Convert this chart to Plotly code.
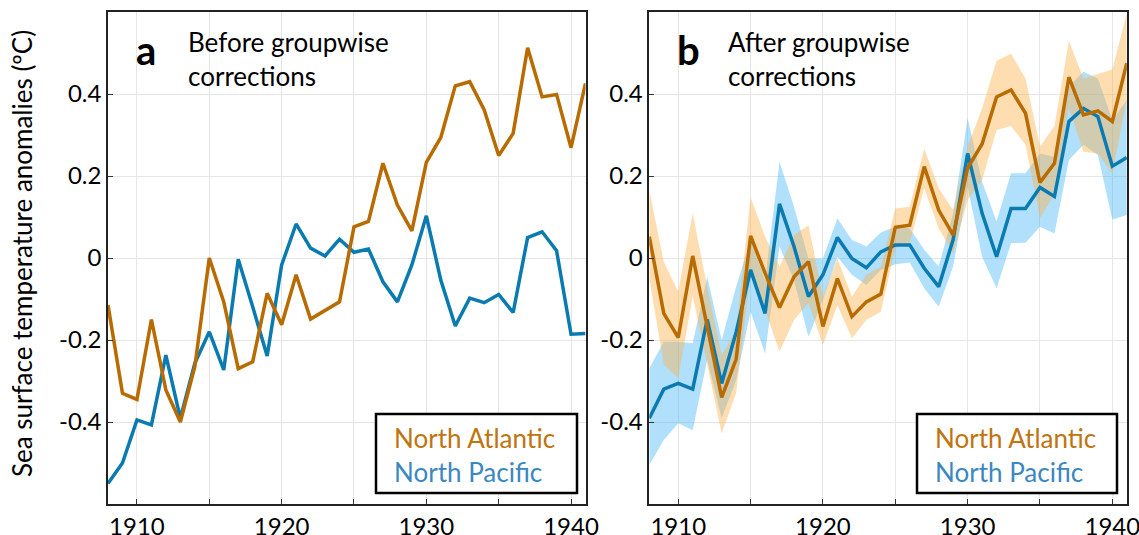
import plotly.graph_objects as go

W, H = 1139, 535

years = [1908, 1909, 1910, 1911, 1912, 1913, 1914, 1915, 1916, 1917, 1918, 1919,
         1920, 1921, 1922, 1923, 1924, 1925, 1926, 1927, 1928, 1929, 1930, 1931,
         1932, 1933, 1934, 1935, 1936, 1937, 1938, 1939, 1940, 1941]

# Panel a: before groupwise corrections
na_before = [-0.115, -0.33, -0.345, -0.15, -0.322, -0.40, -0.265, 0.0, -0.107, -0.27,
             -0.253, -0.086, -0.163, -0.041, -0.149, -0.127, -0.107, 0.076, 0.089, 0.231,
             0.129, 0.066, 0.233, 0.294, 0.42, 0.43, 0.361, 0.25, 0.304, 0.513,
             0.393, 0.399, 0.269, 0.426]
np_before = [-0.55, -0.50, -0.395, -0.407, -0.237, -0.391, -0.257, -0.18, -0.273, -0.003,
             -0.119, -0.239, -0.017, 0.083, 0.024, 0.005, 0.046, 0.014, 0.022, -0.058,
             -0.107, -0.017, 0.103, -0.054, -0.166, -0.098, -0.109, -0.089, -0.133, 0.05,
             0.064, 0.018, -0.186, -0.184]

# Panel b: after groupwise corrections
na_after = [0.052, -0.135, -0.194, 0.005, -0.167, -0.34, -0.247, 0.054, -0.037, -0.121,
            -0.046, -0.009, -0.167, -0.05, -0.143, -0.107, -0.088, 0.075, 0.08, 0.223,
            0.117, 0.056, 0.219, 0.278, 0.393, 0.41, 0.353, 0.184, 0.231, 0.441,
            0.349, 0.359, 0.333, 0.475]
na_upper = [0.166, -0.009, -0.082, 0.109, -0.07, -0.237, -0.176, 0.148, 0.052, -0.021,
            0.056, 0.08, -0.094, -0.001, -0.094, -0.041, -0.021, 0.121, 0.125, 0.267,
            0.17, 0.117, 0.272, 0.365, 0.481, 0.498, 0.438, 0.272, 0.322, 0.53,
            0.438, 0.449, 0.46, 0.597]
na_lower = [-0.05, -0.26, -0.293, -0.094, -0.26, -0.428, -0.33, -0.037, -0.127, -0.228,
            -0.151, -0.11, -0.212, -0.115, -0.196, -0.151, -0.131, 0.024, 0.036, 0.17,
            0.072, 0.011, 0.141, 0.19, 0.312, 0.322, 0.276, 0.097, 0.154, 0.365,
            0.259, 0.255, 0.207, 0.385]
np_after = [-0.391, -0.32, -0.306, -0.32, -0.15, -0.306, -0.181, -0.029, -0.135, 0.132,
            0.028, -0.094, -0.041, 0.05, -0.001, -0.024, 0.015, 0.032, 0.032, -0.025,
            -0.07, 0.045, 0.255, 0.109, 0.003, 0.121, 0.121, 0.172, 0.15, 0.333,
            0.365, 0.345, 0.224, 0.245]
np_upper = [-0.269, -0.204, -0.204, -0.208, -0.046, -0.2, -0.07, 0.044, -0.054, 0.235,
            0.125, -0.001, -0.001, 0.097, 0.044, 0.028, 0.062, 0.076, 0.072, 0.02,
            -0.021, 0.109, 0.341, 0.186, 0.089, 0.207, 0.207, 0.255, 0.247, 0.418,
            0.454, 0.438, 0.337, 0.385]
np_lower = [-0.505, -0.444, -0.403, -0.42, -0.249, -0.391, -0.298, -0.131, -0.233, 0.028,
            -0.054, -0.192, -0.102, 0.003, -0.041, -0.066, -0.029, -0.015, -0.011, -0.074,
            -0.119, -0.02, 0.174, 0.003, -0.074, 0.036, 0.037, 0.076, 0.06, 0.239,
            0.276, 0.251, 0.094, 0.105]

x_tickvals = [1910, 1915, 1920, 1925, 1930, 1935, 1940]
x_ticktext = ["1910", "", "1920", "", "1930", "", "1940"]
y_tickvals = [-0.4, -0.2, 0, 0.2, 0.4]
y_ticktext = ["-0.4", "-0.2", "0", "0.2", "0.4"]

NA_LINE = "#B86B00"
NP_LINE = "#0A7BB0"
NA_BAND = "rgba(252,176,70,0.42)"
NP_BAND = "rgba(70,180,250,0.42)"
NA_TEXT = "#C0740F"
NP_TEXT = "#3A87C2"
FONT = "Lato, 'Open Sans', sans-serif"

fig = go.Figure()

# Panel a lines
fig.add_trace(go.Scatter(x=years, y=np_before, mode="lines",
                         line=dict(color=NP_LINE, width=3.5), xaxis="x", yaxis="y"))
fig.add_trace(go.Scatter(x=years, y=na_before, mode="lines",
                         line=dict(color=NA_LINE, width=3.5), xaxis="x", yaxis="y"))

# Panel b bands
fig.add_trace(go.Scatter(x=years + years[::-1], y=np_upper + np_lower[::-1],
                         fill="toself", fillcolor=NP_BAND, mode="lines",
                         line=dict(width=0), xaxis="x2", yaxis="y2"))
fig.add_trace(go.Scatter(x=years + years[::-1], y=na_upper + na_lower[::-1],
                         fill="toself", fillcolor=NA_BAND, mode="lines",
                         line=dict(width=0), xaxis="x2", yaxis="y2"))
# Panel b lines
fig.add_trace(go.Scatter(x=years, y=np_after, mode="lines",
                         line=dict(color=NP_LINE, width=3.5), xaxis="x2", yaxis="y2"))
fig.add_trace(go.Scatter(x=years, y=na_after, mode="lines",
                         line=dict(color=NA_LINE, width=3.5), xaxis="x2", yaxis="y2"))

def px(x):
    return x / W

def py(y):
    return 1 - y / H

common_x = dict(range=[1908, 1941], tickvals=x_tickvals, ticktext=x_ticktext,
                showgrid=True, gridcolor="#E6E6E6", gridwidth=1,
                ticks="inside", ticklen=5, tickcolor="#333",
                showline=True, linecolor="#222", linewidth=1.5, mirror=True,
                zeroline=False, automargin=False, ticklabeloverflow="allow",
                tickfont=dict(size=24, color="black", family=FONT))
common_y = dict(range=[-0.6, 0.6], tickvals=y_tickvals, ticktext=y_ticktext,
                showgrid=True, gridcolor="#E6E6E6", gridwidth=1,
                ticks="inside", ticklen=5, tickcolor="#333",
                showline=True, linecolor="#222", linewidth=1.5, mirror=True,
                zeroline=False, automargin=False, ticklabeloverflow="allow",
                tickfont=dict(size=24, color="black", family=FONT))

ydom = [py(504), py(12)]
fig.update_layout(
    width=W, height=H,
    margin=dict(l=0, r=0, t=0, b=0),
    paper_bgcolor="white", plot_bgcolor="white",
    showlegend=False,
    font=dict(family=FONT, color="black"),
    xaxis=dict(domain=[px(108), px(585.5)], anchor="y", **common_x),
    yaxis=dict(domain=ydom, anchor="x", **common_y),
    xaxis2=dict(domain=[px(649.3), px(1126.8)], anchor="y2", **common_x),
    yaxis2=dict(domain=ydom, anchor="x2", **common_y),
)

# Legend boxes
for x0, x1 in [(376, 577), (917, 1117)]:
    fig.add_shape(type="rect", xref="paper", yref="paper",
                  x0=px(x0), x1=px(x1), y0=py(493), y1=py(414),
                  line=dict(color="black", width=2.5), fillcolor="white", layer="above")

anns = []
for lx in [392, 933]:
    anns.append(dict(x=px(lx), y=py(438), xref="paper", yref="paper",
                     xanchor="left", yanchor="middle", showarrow=False,
                     text="North Atlantic", font=dict(size=26, color=NA_TEXT, family=FONT)))
    anns.append(dict(x=px(lx), y=py(472), xref="paper", yref="paper",
                     xanchor="left", yanchor="middle", showarrow=False,
                     text="North Pacific", font=dict(size=26, color=NP_TEXT, family=FONT)))

# Panel labels
for lx, letter, tx, label in [(136, "a", 188, "Before groupwise<br>corrections"),
                              (677, "b", 728, "After groupwise<br>corrections")]:
    anns.append(dict(x=px(lx - 2), y=py(50), xref="paper", yref="paper",
                     xanchor="left", yanchor="middle", showarrow=False,
                     text="<b>" + letter + "</b>",
                     font=dict(size=40, color="black", family=FONT)))
    anns.append(dict(x=px(tx - 2), y=py(59), xref="paper", yref="paper",
                     xanchor="left", yanchor="middle", showarrow=False, align="left",
                     text=label, font=dict(size=26, color="black", family=FONT)))

# Y-axis title
anns.append(dict(x=px(22), y=py(254), xref="paper", yref="paper",
                 xanchor="center", yanchor="middle", showarrow=False, textangle=-90,
                 text="Sea surface temperature anomalies (ºC)",
                 font=dict(size=26, color="black", family=FONT)))

fig.update_layout(annotations=anns)

fig.write_html("out.html", config={"displayModeBar": False},
               post_script="document.body.style.margin='0px';")
